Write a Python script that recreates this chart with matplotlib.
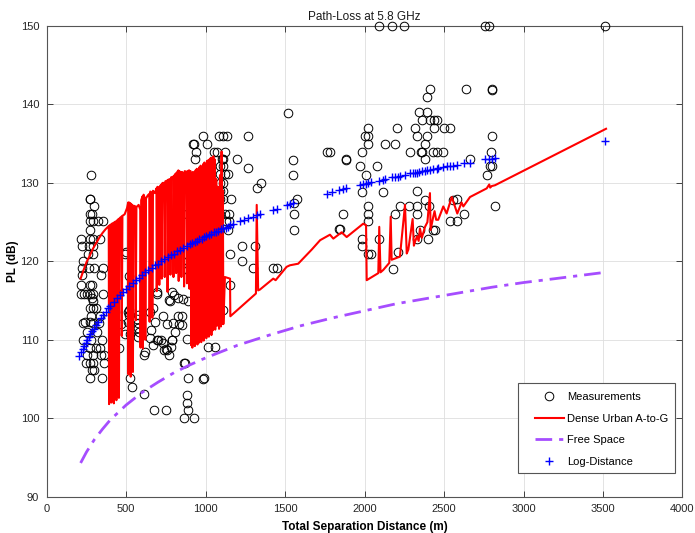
import matplotlib
matplotlib.use("Agg")
import matplotlib.pyplot as plt
from matplotlib.patches import Rectangle

plt.rcParams['font.family'] = ['Liberation Sans', 'DejaVu Sans']

MEAS_D = [
    # left cluster 200-360 m
    278, 269, 272, 299, 272, 284, 270, 291, 322, 355, 272,
    217, 272, 289, 335, 221, 267, 293, 259, 293, 230,
    221, 267, 297, 355, 219, 340, 217, 272, 284,
    217, 234, 251, 272, 289, 352, 282, 293, 272, 289, 310,
    280, 335, 230, 289, 327, 272, 240, 251, 318,
    230, 280, 347, 272, 310, 335, 251, 289, 340, 360,
    245, 270, 293, 360, 285, 297, 272, 347,
    # 380-1000 m
    410, 445, 470, 455, 430,
    498, 492, 519, 517, 513, 519, 508, 492, 524,
    573, 570, 575, 572, 578, 573,
    523, 536, 612, 675, 750, 614, 618,
    649, 670, 691, 695, 771, 786, 800, 827, 855, 890, 775,
    733, 754, 796, 827, 834, 807, 786, 781, 750, 733, 702, 670, 649, 654, 681,
    737, 754, 771, 788, 717, 695,
    863, 888, 880, 882, 890, 865, 924,
    880, 849, 849, 1012, 1058, 985, 870, 989,
    # upper cluster 880-1450 m
    985, 1085, 1111, 1136, 1268, 918, 926, 1006,
    939, 1052, 1069, 1123, 932, 1100, 1107, 1195,
    1090, 1107, 1268, 1087, 1122, 1138,
    1346, 1090, 1107, 1321, 1090, 1107,
    1157, 1090, 1107, 880, 1090, 1122, 1145,
    1128, 1145, 1138, 1226, 1153, 1226,
    1299, 1425, 1447, 1153, 1107, 890, 890,
    # 1500-1900 m
    1520, 1547, 1547, 1572, 1555, 1557, 1557, 1310,
    1761, 1782, 1881, 1883, 1862, 1840, 1845,
    # 1950-3520 m
    2092, 2170, 2249, 2757, 2784, 3512,
    2411, 2390, 2636, 2799, 2799,
    2342, 2394, 2359, 2411, 2438, 2457,
    2019, 2202, 2317, 2436, 2499, 2537,
    2002, 2023, 2328, 2394, 2799,
    2023, 2128, 2191, 2379,
    1981, 2285, 2354, 2363, 2432, 2453, 2491, 2793,
    2378, 2663, 1971, 2080, 2789, 2799, 2009, 2768,
    1981, 2113, 2327, 2380, 2407, 2558, 2583, 2820,
    2023, 2023, 2023, 2222, 2281, 2327, 2191, 2327,
    2537, 2583, 2625,
    1981, 1981, 2023, 2041, 2092,
    2327, 2348, 2400, 2432, 2443, 2212, 2180,
]
MEAS_PL = [
    131.0, 128.0, 128.0, 127.0, 126.0, 126.0, 125.1, 125.1, 125.1, 125.1, 124.0,
    122.9, 122.9, 122.9, 122.9, 122.0, 122.0, 122.0, 121.0, 121.0, 120.0,
    119.1, 119.1, 119.1, 119.1, 118.2, 118.2, 117.0, 117.0, 117.0,
    115.9, 115.9, 115.9, 115.9, 115.9, 115.9, 115.3, 114.9, 114.0, 114.0, 114.0,
    113.0, 113.0, 112.1, 112.1, 112.1, 112.3, 112.3, 111.0, 111.0,
    110.0, 110.0, 110.0, 108.9, 108.9, 108.9, 108.1, 108.1, 108.1, 108.1,
    107.0, 107.0, 107.0, 107.0, 106.2, 106.2, 105.1, 105.1,
    119.0, 116.0, 112.0, 109.0, 113.5,
    121.2, 121.0, 118.1, 113.8, 113.6, 113.2, 112.3, 110.8, 110.8,
    113.2, 112.6, 112.1, 111.5, 111.0, 110.4,
    105.1, 104.0, 103.1, 101.0, 101.0, 108.1, 108.5,
    113.6, 114.0, 115.9, 116.1, 115.1, 116.1, 115.7, 115.3, 115.2, 115.0, 114.9,
    113.0, 112.0, 112.2, 113.0, 112.0, 111.0, 110.0, 109.1, 108.8, 109.6, 110.0, 109.3, 110.2, 111.3, 112.3,
    108.7, 108.7, 108.1, 110.0, 110.0, 110.0,
    107.0, 105.1, 103.0, 101.9, 101.1, 100.0, 100.0,
    110.1, 113.0, 111.9, 109.1, 109.1, 105.0, 107.0, 105.1,
    136.0, 136.0, 136.0, 136.0, 136.0, 135.0, 135.0, 135.0,
    134.0, 134.0, 134.0, 134.0, 133.0, 133.0, 133.0, 133.0,
    132.1, 132.1, 131.9, 131.1, 131.1, 131.1,
    130.0, 130.0, 130.0, 129.3, 129.0, 129.0,
    128.0, 128.0, 128.0, 126.0, 126.0, 126.0, 126.0,
    125.1, 125.1, 124.0, 122.0, 121.0, 120.0,
    119.1, 119.1, 119.1, 117.0, 113.8, 120.0, 118.9,
    138.9, 132.9, 131.0, 128.0, 127.5, 126.0, 124.0, 122.0,
    134.0, 134.0, 132.9, 133.0, 126.0, 124.1, 124.1,
    150.0, 150.0, 150.0, 150.0, 150.0, 150.0,
    142.0, 140.9, 142.0, 141.9, 142.0,
    139.0, 139.0, 138.0, 138.0, 138.0, 138.0,
    137.0, 137.0, 137.0, 137.0, 137.0, 137.0,
    136.0, 136.0, 136.0, 136.0, 136.0,
    134.9, 134.9, 134.9, 134.9,
    134.0, 134.0, 134.0, 134.0, 134.0, 134.0, 134.0, 134.0,
    133.1, 133.0, 132.1, 132.1, 132.1, 132.1, 131.0, 131.0,
    128.9, 128.9, 129.0, 127.8, 127.0, 127.8, 128.0, 127.0,
    127.1, 126.1, 125.1, 127.1, 127.1, 127.1, 126.1, 126.1,
    125.1, 125.1, 126.0,
    122.9, 122.0, 121.0, 121.0, 122.9,
    122.9, 124.0, 122.9, 124.0, 124.0, 121.2, 119.0,
]

# --- Dense Urban A-to-G model (red line) ---
URBAN_D = [
    213, 230, 250, 270, 290, 310, 330, 350, 370,
    390, 392, 396, 404, 406, 410, 420, 422, 426, 436, 438, 442, 452, 454, 458,
    470, 472, 476, 490, 505, 512, 514, 518, 526, 528, 532, 540, 542, 546,
    558, 560, 564, 578, 588, 590, 594, 603, 605, 609, 618, 620, 624,
    635, 645, 647, 651, 662, 664, 668, 680, 690, 692, 696, 706, 708, 712,
    722, 724, 728, 740, 742, 746, 758, 760, 764, 776, 778, 782, 795, 797, 801,
    812, 814, 818, 828, 830, 834, 845, 847, 851, 862, 864, 868, 880, 882, 886,
    896, 898, 902, 905,
    909, 912, 916, 920, 924, 928, 932, 936, 940, 944, 948, 952, 956, 960, 964, 968,
    972, 976, 980, 984, 988, 992, 996, 1000, 1004, 1008, 1012, 1016, 1020, 1024,
    1028, 1032, 1036, 1040, 1044, 1048, 1052, 1056, 1060, 1066, 1072, 1078, 1084,
    1090, 1096, 1100, 1104, 1108, 1111,
    1121, 1153, 1155, 1316, 1321, 1330, 1341, 1425, 1440, 1509, 1530, 1582, 1667,
    1720, 1782, 1803, 1855, 1887, 1991, 2009, 2013, 2086, 2092, 2100, 2117, 2155,
    2164, 2170, 2222, 2254, 2265, 2275, 2302, 2310, 2317, 2330, 2340, 2348, 2360,
    2380, 2395, 2411, 2415, 2432, 2440, 2450, 2463, 2495, 2516, 2548, 2560, 2583,
    2610, 2621, 2663, 2768, 2784, 2790, 2800, 2820, 3519,
]
URBAN_PL = [
    117.8, 118.8, 119.9, 120.7, 121.6, 122.3, 123.0, 123.6, 124.1,
    124.5, 101.8, 124.6, 124.7, 102.0, 124.8, 124.9, 101.9, 125.0, 125.1, 102.3, 125.2, 125.4, 102.6, 125.5,
    125.7, 110.5, 125.8, 126.0, 126.8, 127.5, 105.6, 127.5, 127.4, 105.3, 127.3, 127.0, 105.9, 127.1,
    127.0, 112.5, 126.9, 127.2, 126.6, 109.0, 127.8, 128.3, 108.9, 128.5, 128.0, 110.0, 128.0,
    128.4, 128.6, 112.3, 128.9, 128.7, 112.8, 129.0, 128.7, 129.3, 116.2, 129.5, 129.4, 117.0, 129.6,
    129.8, 117.8, 130.0, 130.0, 118.0, 130.2, 130.3, 116.1, 130.4, 130.5, 118.3, 130.7, 130.8, 118.0, 130.9,
    131.2, 118.5, 131.3, 131.6, 117.5, 131.5, 131.3, 118.0, 131.4, 131.2, 116.8, 131.5, 131.4, 117.2, 131.5,
    131.6, 116.5, 131.4, 131.5,
    109.3, 131.2, 109.0, 131.4, 109.5, 131.0, 109.2, 131.6, 109.8, 131.8, 109.4, 131.5, 109.6, 132.0, 110.1, 132.2,
    109.7, 131.9, 110.3, 132.4, 109.9, 132.6, 110.5, 132.3, 110.2, 132.8, 110.8, 132.9, 110.4, 133.0,
    111.0, 133.2, 110.6, 133.1, 111.2, 133.4, 111.5, 133.0, 111.3, 130.5, 111.8, 129.5, 111.4,
    131.0, 111.7, 134.0, 112.0, 129.0, 112.0,
    118.0, 117.8, 113.0, 115.9, 127.2, 116.3, 116.4, 117.8, 117.6, 119.3, 119.5, 119.7, 121.5,
    122.7, 123.4, 122.9, 123.7, 123.1, 124.8, 124.6, 117.6, 118.5, 124.4, 118.6, 118.9, 119.8,
    125.7, 120.2, 120.6, 127.2, 121.0, 121.5, 125.4, 122.0, 122.5, 123.2, 122.6, 124.2, 123.0,
    124.4, 125.0, 128.7, 124.0, 125.7, 126.4, 125.3, 125.3, 127.0, 126.1, 128.2, 127.5, 126.1,
    127.5, 127.0, 128.2, 129.3, 129.8, 129.4, 129.6, 129.7, 136.9,
]

# --- Free space (purple dash-dot) ---
FS_D = [213, 250, 300, 350, 400, 500, 600, 700, 800, 900, 1000, 1200, 1400, 1600,
        1800, 2000, 2200, 2400, 2600, 2800, 3000, 3200, 3512]
FS_PL = [94.3, 95.7, 97.3, 98.6, 99.8, 101.7, 103.3, 104.6, 105.8, 106.8, 107.7, 109.3,
         110.6, 111.8, 112.8, 113.7, 114.6, 115.3, 116.0, 116.7, 117.3, 117.8, 118.6]

# --- Log-distance model (blue +) ---
LD_D = [205, 215, 225, 235, 245, 255, 265, 275, 285, 295, 310, 325, 340, 355, 370,
        385, 400, 420, 440, 460, 480, 500, 520, 540, 560, 580, 600, 620, 640, 660,
        680, 700, 720, 740, 760, 780, 800, 820, 840, 860, 880, 900, 915, 930, 945,
        960, 975, 990, 1005, 1020, 1035, 1050, 1065, 1080, 1095, 1110, 1125, 1140,
        1155, 1170, 1216, 1240, 1268, 1300, 1321, 1341, 1425, 1447, 1509, 1530, 1547,
        1761, 1792, 1840, 1862, 1883, 1971, 1991, 2009, 2023, 2041, 2092, 2113, 2128,
        2170, 2191, 2212, 2222, 2254, 2285, 2302, 2317, 2327, 2342, 2359, 2380, 2394,
        2411, 2432, 2453, 2463, 2491, 2516, 2537, 2558, 2583, 2625, 2663, 2757, 2784,
        2799, 2820, 3512]
LD_PL = [107.9, 108.4, 108.8, 109.2, 109.6, 110.0, 110.4, 110.7, 111.1, 111.4, 111.9,
         112.3, 112.8, 113.2, 113.6, 114.0, 114.3, 114.8, 115.3, 115.7, 116.1, 116.5,
         116.9, 117.2, 117.6, 117.9, 118.3, 118.6, 118.9, 119.2, 119.5, 119.7, 120.0,
         120.3, 120.5, 120.8, 121.0, 121.3, 121.5, 121.7, 122.0, 122.2, 122.3, 122.5,
         122.6, 122.8, 122.9, 123.1, 123.2, 123.4, 123.5, 123.7, 123.8, 123.9, 124.1,
         124.2, 124.3, 124.4, 124.6, 124.7, 125.1, 125.3, 125.5, 125.7, 125.9, 126.0,
         126.6, 126.7, 127.2, 127.3, 127.4, 128.6, 128.8, 129.1, 129.2, 129.3, 129.7,
         129.8, 129.9, 130.0, 130.1, 130.3, 130.4, 130.5, 130.7, 130.7, 130.8, 130.9,
         131.0, 131.2, 131.2, 131.3, 131.3, 131.4, 131.5, 131.5, 131.6, 131.7, 131.8,
         131.8, 131.9, 132.0, 132.1, 132.2, 132.2, 132.3, 132.5, 132.6, 133.0, 133.1,
         133.1, 133.2, 135.3]

X_TICKS = [0, 500, 1000, 1500, 2000, 2500, 3000, 3500, 4000]
Y_TICKS = [90, 100, 110, 120, 130, 140, 150]

fig = plt.figure(figsize=(6.95, 5.33), dpi=100)
ax = fig.add_axes([0.0673, 0.0681, 0.9147, 0.8831])

ax.plot(MEAS_D, MEAS_PL, 'o', mfc='none', mec='black', ms=6.2, mew=0.7,
        clip_on=False, label='Measurements', zorder=3)
ax.plot(URBAN_D, URBAN_PL, '-', color='red', lw=1.5, label='Dense Urban A-to-G', zorder=4)
ax.plot(FS_D, FS_PL, '-.', color='#a64dff', lw=2.0, dashes=(6, 2.5, 1.5, 2.5),
        label='Free Space', zorder=4)
ax.plot(LD_D, LD_PL, '+', color='blue', ms=5.5, mew=1.0, label='Log-Distance', zorder=5)

ax.set_xlim(0, 4000)
ax.set_ylim(90, 150)
ax.set_xticks(X_TICKS)
ax.set_yticks(Y_TICKS)
ax.grid(True, color='#dedede', lw=0.6)
ax.set_axisbelow(True)
ax.tick_params(direction='in', length=4, width=0.6, top=True, right=True,
               labelsize=8, colors='#262626', pad=5.5)
for s in ax.spines.values():
    s.set_color('#555555')
    s.set_linewidth(0.8)

ax.set_title('Path-Loss at 5.8 GHz', fontsize=8.5, color='#1a1a1a', pad=4.5)
ax.set_xlabel('Total Separation Distance (m)', fontsize=8.5, fontweight='bold', labelpad=5)
ax.set_ylabel('PL (dB)', fontsize=8.5, fontweight='bold', labelpad=1)

# legend: frame drawn separately so the side padding can match the original
ax.add_patch(Rectangle((0.7408, 0.051), 0.2474, 0.1899, transform=ax.transAxes,
                       facecolor='white', edgecolor='#555555', lw=0.8, zorder=6))
leg = ax.legend(loc='upper left', bbox_to_anchor=(0.768, 0.222), fontsize=8,
                frameon=False, borderpad=0, borderaxespad=0,
                handlelength=2.6, labelspacing=1.03, handletextpad=0.3)
leg.set_zorder(7)

fig.savefig('out.png', dpi=100)
